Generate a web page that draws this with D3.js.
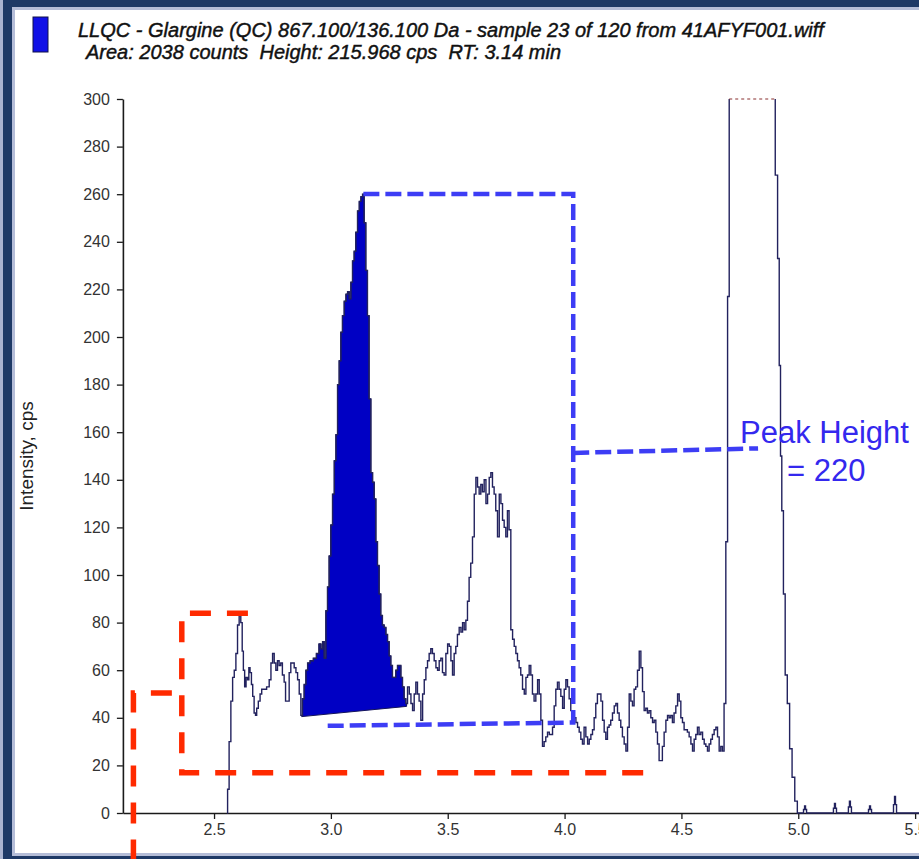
<!DOCTYPE html>
<html>
<head>
<meta charset="utf-8">
<script src="https://cdn.jsdelivr.net/npm/d3@7"></script>
<style>
  html, body { margin: 0; padding: 0; background: #fff; }
  svg { display: block; }
</style>
</head>
<body>
<script>
// ---- chromatogram data: [retention time (min), intensity (cps)] ----
const traceLeadIn = [
  [2.555,0],[2.561,10],[2.568,30],[2.576,47],[2.583,57],[2.590,60],[2.597,67],[2.604,79],[2.611,83],[2.618,80],
  [2.623,68],[2.628,60],[2.634,53],[2.640,57],[2.647,56],[2.651,61],[2.657,59],[2.663,54],[2.668,49],[2.675,42],
  [2.680,41],[2.685,44],[2.694,47],[2.700,50],[2.708,52],[2.718,52],[2.732,53],[2.740,56],[2.747,63],[2.754,67],
  [2.761,63],[2.768,60],[2.775,64],[2.782,62],[2.789,63],[2.796,58],[2.804,55],[2.808,47],[2.818,47],[2.825,59],
  [2.832,63],[2.839,63],[2.847,61],[2.854,59],[2.861,56],[2.868,50]
];
const analytePeak = [
  [2.875,41],[2.882,48],[2.889,54],[2.897,60],[2.904,63],[2.918,64],[2.932,65],[2.944,67],[2.954,71],[2.961,69],
  [2.968,72],[2.975,65],[2.982,85],[2.989,95],[2.996,108],[3.003,121],[3.011,134],[3.018,148],[3.025,159],[3.032,180],
  [3.039,190],[3.046,202],[3.053,209],[3.061,215],[3.068,218],[3.075,219],[3.082,216],[3.089,223],[3.096,232],[3.103,236],
  [3.110,244],[3.118,253],[3.125,257],[3.132,259],[3.139,260],[3.146,248],[3.153,228],[3.160,209],[3.167,174],[3.175,143],
  [3.182,139],[3.189,132],[3.196,114],[3.203,104],[3.210,92],[3.217,83],[3.224,79],[3.232,78],[3.239,75],[3.246,72],
  [3.253,66],[3.260,62],[3.267,57],[3.274,57],[3.281,60],[3.289,62],[3.296,62],[3.303,57],[3.310,53],[3.317,48],
  [3.324,46]
];
const secondPeak = [
  [3.332,53],[3.339,50],[3.346,46],[3.353,43],[3.360,50],[3.367,55],[3.374,50],[3.381,47],[3.389,39],[3.396,50],
  [3.403,56],[3.410,61],[3.417,64],[3.424,67],[3.431,69],[3.438,67],[3.446,64],[3.453,61],[3.460,60],[3.467,64],
  [3.474,65],[3.481,59],[3.488,58],[3.496,67],[3.503,71],[3.510,70],[3.517,64],[3.524,58],[3.531,67],[3.538,70],
  [3.545,75],[3.553,78],[3.560,76],[3.567,80],[3.574,77],[3.581,81],[3.588,89],[3.595,99],[3.602,105],[3.610,116],
  [3.617,134],[3.624,141],[3.631,137],[3.638,134],[3.645,138],[3.652,135],[3.660,140],[3.667,130],[3.674,134],[3.681,141],
  [3.688,143],[3.695,137],[3.702,134],[3.709,127],[3.717,116],[3.724,134],[3.731,130],[3.738,123],[3.745,120],[3.752,116],
  [3.759,127],[3.766,119],[3.774,77],[3.781,73],[3.788,70],[3.795,67],[3.802,64],[3.809,61],[3.816,58],[3.824,52],
  [3.831,50],[3.838,57],[3.845,58],[3.852,62],[3.859,58],[3.866,50],[3.873,47],[3.881,50],[3.888,56],[3.895,50],
  [3.902,39],[3.909,28]
];
const lateNoise = [
  [3.916,30],[3.923,32],[3.931,34],[3.938,33],[3.945,33],[3.952,36],[3.959,45],[3.966,52],[3.973,55],[3.980,52],
  [3.988,49],[3.995,44],[4.002,52],[4.009,56],[4.016,53],[4.023,48],[4.030,43],[4.038,42],[4.045,40],[4.052,38],
  [4.059,36],[4.066,34],[4.073,31],[4.080,29],[4.087,36],[4.095,32],[4.102,29],[4.109,31],[4.116,33],[4.123,35],
  [4.130,40],[4.137,46],[4.144,50],[4.152,50],[4.159,47],[4.166,39],[4.173,34],[4.180,31],[4.187,36],[4.194,37],
  [4.201,39],[4.209,42],[4.216,45],[4.223,46],[4.230,42],[4.237,39],[4.244,36],[4.251,32],[4.259,29],[4.266,26],
  [4.273,36],[4.280,50],[4.287,47],[4.294,45],[4.301,52],[4.308,53],[4.316,60],[4.323,68],[4.330,61],[4.337,51],
  [4.344,43],[4.351,44],[4.358,42],[4.365,43],[4.373,40],[4.380,38],[4.387,39],[4.394,34],[4.401,29],[4.408,22],
  [4.415,22],[4.422,28],[4.430,34],[4.437,39],[4.444,41],[4.451,40],[4.458,41],[4.465,38],[4.472,42],[4.480,45],
  [4.487,50],[4.494,47],[4.501,40],[4.508,38],[4.515,35],[4.522,35],[4.529,34],[4.537,32],[4.544,29],[4.551,26],
  [4.558,31],[4.565,33],[4.572,36],[4.579,33],[4.587,34],[4.594,31],[4.601,29],[4.608,28],[4.615,26],[4.622,29],
  [4.629,31],[4.636,33],[4.644,35],[4.651,36],[4.658,32],[4.665,26],[4.672,28],[4.679,26],[4.686,46]
];
const saturatedPeak = [
  [4.694,114],[4.701,217],[4.708,330],[4.720,370],[4.740,400],[4.760,420],[4.780,425],[4.800,415],[4.820,400],[4.840,380],
  [4.860,360],[4.880,335],[4.895,310],[4.908,268],[4.915,233],[4.922,188],[4.926,150],[4.933,127],[4.940,92],[4.948,58],
  [4.958,46],[4.968,27],[4.979,15],[4.991,5],[5.001,0]
];
const trailingBaseline = [
  [5.020,0],[5.025,1.5],[5.029,3],[5.033,1.5],[5.038,0],
  [5.148,0],[5.153,2],[5.157,4],[5.161,2],[5.166,0],
  [5.212,0],[5.217,2.5],[5.221,5],[5.225,2.5],[5.230,0],
  [5.298,0],[5.303,1.5],[5.307,3],[5.311,1.5],[5.316,0],
  [5.405,0],[5.410,3.5],[5.414,7],[5.418,3.5],[5.423,0],[5.550,0]
];

// integration baseline under the quantified peak
const integrationBaseline = [[2.875, 40.5], [3.324, 44.8]];

// axis ticks
const xMajorTicks = [2.5, 3.0, 3.5, 4.0, 4.5, 5.0, 5.5];
const xMinorTicks = [2.2, 2.3, 2.4, 2.6, 2.7, 2.8, 2.9, 3.1, 3.2, 3.3, 3.4, 3.6, 3.7, 3.8, 3.9,
                     4.1, 4.2, 4.3, 4.4, 4.6, 4.7, 4.8, 4.9, 5.1, 5.2, 5.3, 5.4];
const yMajorTicks = [0, 20, 40, 60, 80, 100, 120, 140, 160, 180, 200, 220, 240, 260, 280, 300];
const yMinorTicks = [10, 30, 50, 70, 90, 110, 130, 150, 170, 190, 210, 230, 250, 270, 290];

// header text
const titleLines = [
  "LLQC - Glargine (QC) 867.100/136.100 Da - sample 23 of 120 from 41AFYF001.wiff",
  "Area: 2038 counts  Height: 215.968 cps  RT: 3.14 min"
];
const yAxisTitle = "Intensity, cps";
const peakHeightLabel = ["Peak Height", "= 220"];

// hand-drawn annotation outlines, in data units (min, cps)
const noiseMarkA = [[2.155, -20], [2.155, 50.4], [2.362, 50.4]];
const noiseMarkB = [[2.645, 83.9], [2.362, 83.9], [2.362, 16.9], [4.347, 16.9]];
const heightBracket = [[3.139, 260.1], [4.037, 260.1], [4.037, 38.0], [2.979, 36.6]];
const heightPointer = [[4.037, 151.3], [4.828, 153.2]];

// ---- drawing ----
const W = 919, H = 859;
const svg = d3.select("body").append("svg").attr("width", W).attr("height", H);
const FONT = "'Liberation Sans', Arial, sans-serif";

// window frame
svg.append("rect").attr("x", 0).attr("y", 0).attr("width", W).attr("height", H).attr("fill", "#1e3966");
svg.append("rect").attr("x", 0).attr("y", 0).attr("width", 3).attr("height", H).attr("fill", "#aab3d0");
svg.append("rect").attr("x", 12).attr("y", 7).attr("width", W - 12).attr("height", 849).attr("fill", "#b5bdd8");
svg.append("rect").attr("x", 15).attr("y", 10).attr("width", W - 15).attr("height", 843).attr("fill", "#ffffff");

const x = d3.scaleLinear().domain([2.11, 5.55]).range([122.9, 926.8]);
const y = d3.scaleLinear().domain([0, 300]).range([813, 99]);

// legend swatch + header
svg.append("rect").attr("x", 33).attr("y", 17).attr("width", 15).attr("height", 35)
  .attr("fill", "#1010e6").attr("stroke", "#10104a").attr("stroke-width", 1);
const header = svg.append("g").attr("font-family", FONT).attr("font-style", "italic")
  .attr("font-size", 20).attr("fill", "#111").attr("stroke", "#111").attr("stroke-width", 0.45);
header.append("text").attr("x", 78).attr("y", 37).style("white-space", "pre").text(titleLines[0]);
header.append("text").attr("x", 86).attr("y", 59).style("white-space", "pre").text(titleLines[1]);

// axes
const gx = svg.append("g").attr("transform", `translate(0,${y(0)})`);
gx.call(d3.axisBottom(x).tickValues(xMinorTicks).tickSize(3).tickSizeOuter(0).tickFormat(""));
gx.call(d3.axisBottom(x).tickValues(xMajorTicks).tickSize(6).tickSizeOuter(0).tickPadding(5)
  .tickFormat(d3.format(".1f")));
const gy = svg.append("g").attr("transform", `translate(${x(2.11)},0)`);
gy.call(d3.axisLeft(y).tickValues(yMinorTicks).tickSize(3).tickSizeOuter(0).tickFormat(""));
gy.call(d3.axisLeft(y).tickValues(yMajorTicks).tickSize(6).tickSizeOuter(0).tickPadding(7));
[gx, gy].forEach(g => {
  g.selectAll("path.domain").attr("stroke", "#1a1a1a").attr("stroke-width", 1.6);
  g.selectAll(".tick line").attr("stroke", "#1a1a1a").attr("stroke-width", 1.3);
  g.selectAll(".tick text").attr("font-family", FONT).attr("font-size", 16).attr("fill", "#333");
});

svg.append("text")
  .attr("transform", `translate(33,${(y(0) + y(300)) / 2}) rotate(-90)`)
  .attr("text-anchor", "middle").attr("font-family", FONT).attr("font-size", 19).attr("fill", "#222")
  .text(yAxisTitle);

// trace
const trace = [].concat(traceLeadIn, analytePeak, secondPeak, lateNoise, saturatedPeak, trailingBaseline);
const line = d3.line().x(d => x(d[0])).y(d => y(d[1])).curve(d3.curveStep);

svg.append("clipPath").attr("id", "plot-clip").append("rect")
  .attr("x", x(2.11)).attr("y", y(300)).attr("width", W - x(2.11)).attr("height", y(0) - y(300) + 1);

const plot = svg.append("g").attr("clip-path", "url(#plot-clip)");

// filled analyte peak between trace and integration baseline
const [b0, b1] = integrationBaseline;
const peakPts = trace.filter(d => d[0] >= b0[0] && d[0] <= b1[0]);
plot.append("path")
  .attr("d", line(peakPts) + `L${x(b1[0])},${y(b1[1])}L${x(b0[0])},${y(b0[1])}Z`)
  .attr("fill", "#0000c4").attr("stroke", "#14145a").attr("stroke-width", 1);

plot.append("path").attr("d", line(trace))
  .attr("fill", "none").attr("stroke", "#22225e").attr("stroke-width", 1.4).attr("stroke-linejoin", "miter");

// off-scale marker where the trace exceeds the axis range
const over = trace.map((d, i) => i).filter(i => trace[i][1] > 300);
if (over.length) {
  const i0 = over[0], i1 = over[over.length - 1];
  const t0 = (trace[i0 - 1][0] + trace[i0][0]) / 2, t1 = (trace[i1][0] + trace[i1 + 1][0]) / 2;
  svg.append("line").attr("x1", x(t0)).attr("x2", x(t1)).attr("y1", y(300)).attr("y2", y(300))
    .attr("stroke", "#8a3030").attr("stroke-width", 1.2).attr("stroke-dasharray", "3,3");
}

// annotations
const annLine = d3.line().x(d => x(d[0])).y(d => y(d[1]));
const ann = svg.append("g").attr("fill", "none").attr("stroke-linejoin", "miter");
[noiseMarkA, noiseMarkB].forEach(p => ann.append("path").attr("d", annLine(p))
  .attr("stroke", "#ff2a00").attr("stroke-width", 5.5).attr("stroke-dasharray", "21,16"));
[heightBracket, heightPointer].forEach(p => ann.append("path").attr("d", annLine(p))
  .attr("stroke", "#3d3df5").attr("stroke-width", 4.5).attr("stroke-dasharray", "16,6"));

const lbl = svg.append("g").attr("font-family", FONT).attr("font-size", 31).attr("fill", "#3428ee");
lbl.append("text").attr("x", 740).attr("y", 443).text(peakHeightLabel[0]);
lbl.append("text").attr("x", 787).attr("y", 481).text(peakHeightLabel[1]);
</script>
</body>
</html>
